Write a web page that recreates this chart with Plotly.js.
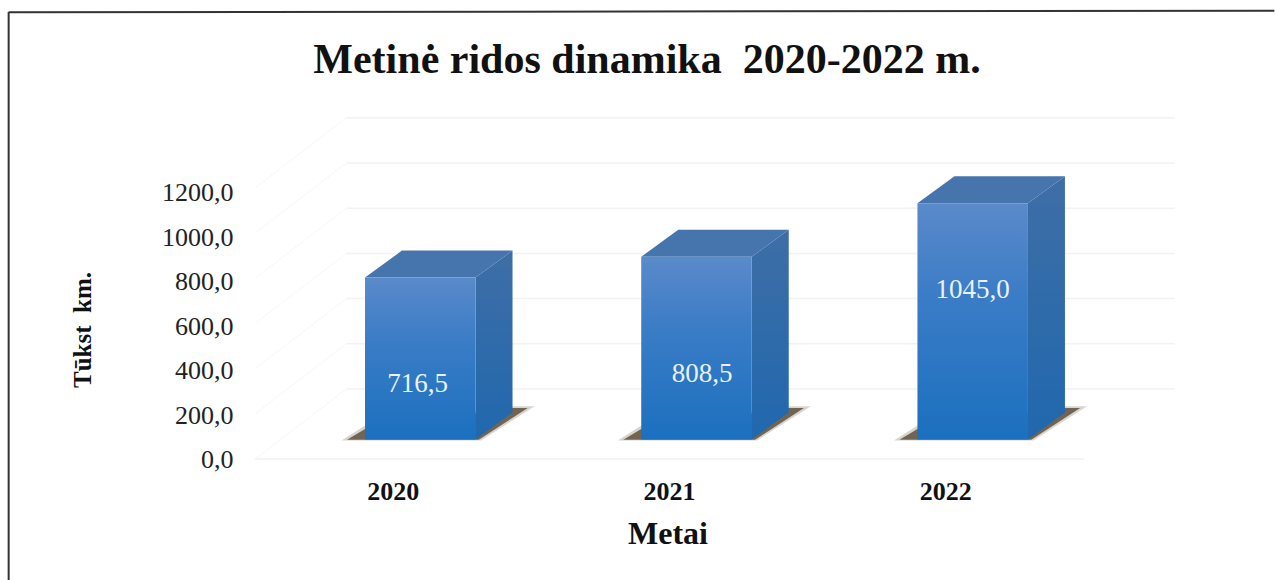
<!DOCTYPE html>
<html><head><meta charset="utf-8">
<script src="https://cdn.plot.ly/plotly-3.0.0.min.js"></script>
<style>html,body{margin:0;padding:0;background:#fff}#c{width:1275px;height:580px}</style></head>
<body><div id="c"></div>
<script>
const categories = ['2020','2021','2022'];
const values = [716.5,808.5,1045.0];
const valueLabels = ['716,5','808,5','1045,0'];
const labelHeights = [240,285,656];
const labelShift = [-0.01,0.02,0];
const tickValues = [0,200,400,600,800,1000,1200];

const DX = 0.33, DY = 309.7;          // floor depth in axis units
const NEARX = 0.0976, FARX = 0.2316, NEARY = 86.3, FARY = 205.8, HW = 0.2; // bar placement on the floor

const traces = [];
const base = {xaxis:'x',yaxis:'y2',hoverinfo:'skip',showlegend:false};
function poly(pts, style){
  traces.push(Object.assign({}, base, {type:'scatter',mode:'lines',fill:'toself',
    x:pts.map(p=>p[0]), y:pts.map(p=>p[1]), line:{width:0}}, style));
}
// walls
tickValues.forEach(v=>{
  traces.push(Object.assign({},base,{type:'scatter',mode:'lines',
    x:[-0.5,-0.5+DX],y:[v,v+DY],line:{color:'#f7f7f7',width:1}}));
  traces.push(Object.assign({},base,{type:'scatter',mode:'lines',
    x:[-0.5+DX,2.5+DX],y:[v+DY,v+DY],line:{color:'#f2f2f2',width:1.5}}));
});
traces.push(Object.assign({},base,{type:'scatter',mode:'lines',x:[-0.5,2.5],y:[0,0],line:{color:'#f0f0f0',width:1.5}}));

categories.forEach((c,i)=>{
  const ny=NEARY, fy=FARY, v=values[i];
  const L=i+NEARX-HW, R=i+NEARX+HW, bL=i+FARX-HW, bR=i+FARX+HW;
  // shadow
  poly([[L-0.085,ny-4],[L,ny+62],[bR,fy+28],[bR+0.08,fy+28],[R+0.02,ny-4]],{fillcolor:'rgba(125,115,100,0.3)'});
  poly([[L-0.065,ny-1],[L,ny+46],[bR,fy+20],[bR+0.055,fy+20],[R+0.012,ny-1]],{fillcolor:'rgba(95,80,60,0.85)'});
  // side
  poly([[R,ny],[bR,fy],[bR,fy+v],[R,ny+v]],{fillgradient:{type:'vertical',colorscale:[[0,'#2068ae'],[1,'#3e6ea6']]}});
  // top
  poly([[L,ny+v],[R,ny+v],[bR,fy+v],[bL,fy+v]],{fillcolor:'#4674ad'});
  // front
  poly([[L,ny],[R,ny],[R,ny+v],[L,ny+v]],{fillgradient:{type:'vertical',colorscale:[[0,'#1b70bf'],[0.6,'#3a7cc6'],[1,'#5a8aca']]}});
});
traces.push(Object.assign({},base,{type:'scatter',mode:'text',
  x:categories.map((c,i)=>i+NEARX+labelShift[i]), y:labelHeights.map(h=>h+NEARY),
  text:valueLabels, textposition:'middle center',
  textfont:{family:'Liberation Serif',size:27,color:'#e9f2fb'}}));
// carries the labelled value axis
traces.push({type:'scatter',mode:'markers',x:[null],y:[null],xaxis:'x',yaxis:'y',hoverinfo:'skip',showlegend:false});

const serif='"Liberation Serif", serif';
const W=1275,H=580,l=160.5,r=99.5,t=100,b=105;
const px2paperX=p=>(p-l)/(W-l-r), px2paperY=p=>(H-b-p)/(H-t-b);
const frame={color:'#333333',width:2};
const layout={
  width:W,height:H,margin:{l,r,t,b,autoexpand:false},
  paper_bgcolor:'#ffffff',plot_bgcolor:'rgba(0,0,0,0)',showlegend:false,
  separators:',.',
  font:{family:serif,color:'#1a1a1a'},
  title:{text:'<b>Metinė ridos dinamika  2020-2022 m.</b>',font:{family:serif,size:42,color:'#111'},
    x:647/W,xanchor:'center',xref:'container',y:1-58/H,yanchor:'middle',yref:'container'},
  xaxis:{type:'linear',range:[-0.841,2.5+DX],anchor:'y2',tickmode:'array',tickvals:[0,1,2],ticktext:categories,
    showgrid:false,zeroline:false,showline:false,ticks:'',ticklabelstandoff:-2,tickfont:{family:serif,size:26,color:'#111',weight:'bold'},
    title:{text:'<b>Metai</b>',font:{family:serif,size:32,color:'#111'},standoff:16}},
  yaxis:{domain:[0,0.7733],range:[-71.9,1231.5],anchor:'free',position:(255-l)/(W-l-r),tickmode:'array',tickvals:tickValues,
    tickformat:'.1f',showgrid:false,zeroline:false,showline:false,ticks:'',ticklabelstandoff:22,
    tickfont:{family:serif,size:26,color:'#222'},
    title:{text:'<b>Tūkst  km.</b>',font:{family:serif,size:25,color:'#111'},standoff:62}},
  yaxis2:{domain:[0,1],range:[-70.8,1588.5],anchor:'x',visible:false,showgrid:false,zeroline:false},
  shapes:[
    {type:'line',xref:'paper',yref:'paper',x0:px2paperX(8),x1:px2paperX(1275),y0:px2paperY(12.3),y1:px2paperY(10.7),line:frame},
    {type:'line',xref:'paper',yref:'paper',x0:px2paperX(8),x1:px2paperX(8),y0:px2paperY(12),y1:px2paperY(580),line:frame}
  ]
};
Plotly.newPlot('c',traces,layout,{displayModeBar:false,staticPlot:true});
</script></body></html>
